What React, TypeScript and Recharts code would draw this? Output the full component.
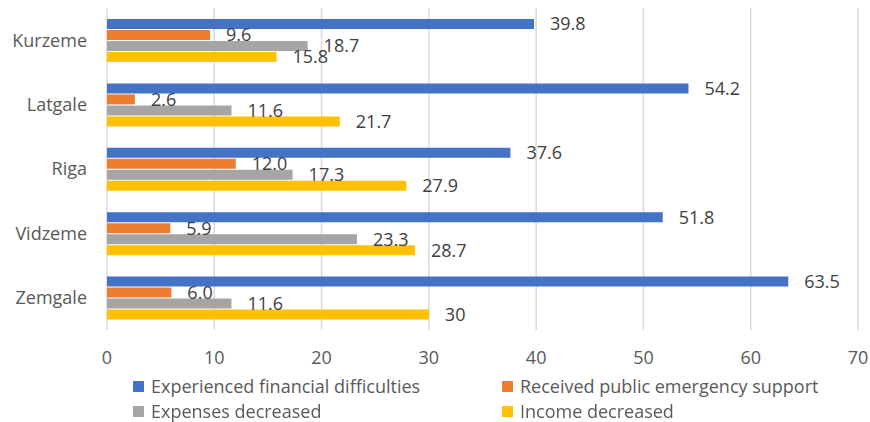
import React from "react";
import { BarChart, Bar, XAxis, YAxis, CartesianGrid, Legend, LabelList } from "recharts";

const regions = ["Kurzeme", "Latgale", "Riga", "Vidzeme", "Zemgale"];
const financialDifficulties = [39.8, 54.2, 37.6, 51.8, 63.5];
const emergencySupport = [9.6, 2.6, 12.0, 5.9, 6.0];
const expensesDecreased = [18.7, 11.6, 17.3, 23.3, 11.6];
const incomeDecreased = [15.8, 21.7, 27.9, 28.7, 30];
const incomeLabels = ["15.8", "21.7", "27.9", "28.7", "30"];
const xTicks = [0, 10, 20, 30, 40, 50, 60, 70];

const series = [
  { key: "fin", name: "Experienced financial difficulties", color: "#4472C4" },
  { key: "sup", name: "Received public emergency support", color: "#ED7D31" },
  { key: "exp", name: "Expenses decreased", color: "#A5A5A5" },
  { key: "inc", name: "Income decreased", color: "#FFC000" },
];

const data = regions.map((r, i) => ({
  region: r,
  fin: financialDifficulties[i],
  sup: emergencySupport[i],
  exp: expensesDecreased[i],
  inc: incomeDecreased[i],
  incLabel: incomeLabels[i],
}));

const font = "'Open Sans', sans-serif";
const textColor = "#595959";

function LegendBox() {
  const item = (s: (typeof series)[number], left: number, top: number) => (
    <div key={s.key} style={{ position: "absolute", left, top, height: 25, display: "flex", alignItems: "center" }}>
      <span style={{ width: 11, height: 11, background: s.color, display: "inline-block", marginRight: 7 }} />
      <span style={{ fontSize: 18, lineHeight: "25px", color: textColor, fontFamily: font, whiteSpace: "nowrap" }}>{s.name}</span>
    </div>
  );
  return (
    <div style={{ position: "relative", width: 870, height: 50 }}>
      {item(series[0], 133, 0)}
      {item(series[1], 502, 0)}
      {item(series[2], 133, 25)}
      {item(series[3], 502, 25)}
    </div>
  );
}

export default function App() {
  return (
    <div style={{ position: "fixed", left: 0, top: 0, background: "#fff", width: 870, height: 422 }}>
      <BarChart
        width={870}
        height={422}
        data={data}
        layout="vertical"
        margin={{ top: 8, right: 12, left: 0, bottom: 0 }}
        barSize={10}
        barGap={1}
        style={{ overflow: "visible" }}
      >
        <CartesianGrid horizontal={false} stroke="#D9D9D9" strokeWidth={1.5} />
        <XAxis
          type="number"
          domain={[0, 70]}
          ticks={xTicks}
          axisLine={false}
          tickLine={false}
          tickSize={0}
          tickMargin={21}
          height={42}
          tick={{ fontSize: 18, fill: textColor, fontFamily: font }}
        />
        <YAxis
          type="category"
          dataKey="region"
          width={107}
          axisLine={false}
          tickLine={false}
          tickSize={0}
          tickMargin={20}
          tick={{ fontSize: 18, fill: textColor, fontFamily: font }}
        />
        <Legend
          verticalAlign="bottom"
          height={50}
          content={() => <LegendBox />}
          wrapperStyle={{ left: 0, top: 374, width: 870 }}
        />
        {series.map((s) => (
          <Bar key={s.key} dataKey={s.key} name={s.name} fill={s.color} isAnimationActive={false}>
            <LabelList
              dataKey={s.key === "inc" ? "incLabel" : s.key}
              position="right"
              offset={16}
              fill="#404040"
              fontSize={18}
              fontFamily={font}
              formatter={(v: any) => (typeof v === "number" ? v.toFixed(1) : v)}
            />
          </Bar>
        ))}
      </BarChart>
    </div>
  );
}
